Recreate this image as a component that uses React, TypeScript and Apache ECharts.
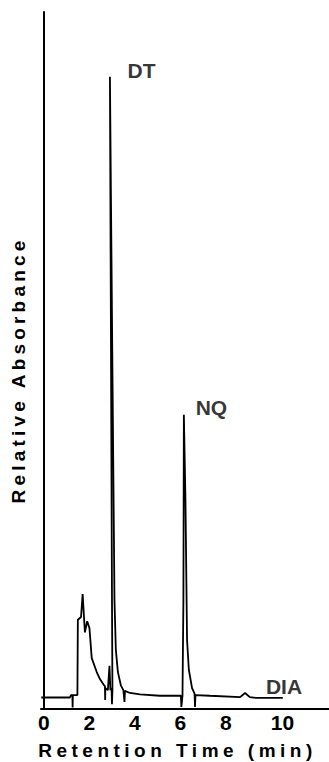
import React, { useEffect, useRef } from 'react';
import * as echarts from 'echarts';

// Retention time (min) and relative absorbance of the chromatogram trace
const retentionTime = [
  -0.12, 1.14, 1.19, 1.25, 1.26, 1.27, 1.41, 1.47, 1.49, 1.63,
  1.70, 1.80, 1.90, 2.00, 2.10, 2.32, 2.46, 2.64, 2.68, 2.69,
  2.70, 2.81, 2.88, 2.92, 2.97, 2.99, 3.01, 2.99, 2.90, 3.01,
  3.10, 3.16, 3.25, 3.38, 3.49, 3.54, 3.56, 3.78, 4.22, 5.10,
  6.02, 6.04, 6.09, 6.13, 6.15, 6.22, 6.29, 6.37, 6.51, 6.62,
  6.64, 6.66, 7.30, 8.62, 8.84, 9.05, 9.32, 10.50,
];
const absorbance = [
  1.65, 1.65, 2.0, 2.0, 0.2, 2.0, 2.0, 2.0, 12.8, 13.2,
  16.5, 11.0, 12.6, 11.6, 7.3, 5.3, 4.3, 3.4, 3.3, 1.3,
  3.0, 2.7, 6.2, 2.7, 3.0, 0.7, 2.7, 15.6, 90.7, 48.6,
  15.6, 8.5, 5.3, 3.4, 2.7, 1.0, 2.6, 2.3, 2.1, 1.9,
  1.9, 0.3, 1.9, 15.6, 42.2, 30.0, 9.9, 5.6, 3.0, 2.2,
  0.3, 2.0, 1.9, 1.7, 2.3, 1.7, 1.6, 1.6,
];

// Peak labels
const peakNames = ['DT', 'NQ', 'DIA'];
const peakLabelTime = [4.29, 7.36, 10.55];
const peakLabelAbs = [91.6, 43.3, 3.2];

// X tick labels
const xTickValues = [0, 2, 4, 6, 8, 10];

const xAxisTitle = 'Retention Time (min)';
const yAxisTitle = 'Relative Absorbance';

const FONT = '"Liberation Sans", Arial, Helvetica, sans-serif';

export default function App() {
  const ref = useRef<HTMLDivElement>(null);

  useEffect(() => {
    if (!ref.current) return;
    const chart = echarts.init(ref.current, null, { renderer: 'svg' });
    const trace = retentionTime.map((t, i) => [t, absorbance[i]]);
    const labels = peakNames.map((n, i) => ({ name: n, value: [peakLabelTime[i], peakLabelAbs[i]] }));
    const tickFont = { fontFamily: FONT, fontWeight: 'bold' as const, fontSize: 21, color: '#000' };

    chart.setOption({
      animation: false,
      backgroundColor: '#fff',
      grid: { left: 41, right: 0, top: 12, bottom: 53, containLabel: false, outerBoundsMode: 'none' },
      xAxis: {
        type: 'value',
        min: -0.13,
        max: 12.53,
        name: xAxisTitle,
        nameLocation: 'middle',
        nameGap: 32,
        nameTextStyle: {
          fontFamily: FONT,
          fontWeight: 'bold',
          fontSize: 19,
          color: '#000',
          padding: [0, 15, 0, 0],
        },
        axisLine: { show: true, onZero: false, lineStyle: { color: '#000', width: 2 } },
        axisTick: { show: false },
        splitLine: { show: false },
        axisLabel: {
          customValues: xTickValues,
          margin: 3,
          ...tickFont,
          formatter: (v: number) => (v === 10 ? `{s|${v}}` : `{n|${v}}`),
          rich: {
            n: { ...tickFont },
            s: { ...tickFont, padding: [0, 0, 0, 22] },
          },
        },
      },
      yAxis: {
        type: 'value',
        min: 0,
        max: 100,
        name: yAxisTitle,
        nameLocation: 'middle',
        nameRotate: 90,
        nameGap: 13,
        nameTextStyle: {
          fontFamily: FONT,
          fontWeight: 'bold',
          fontSize: 19,
          color: '#000',
          padding: [0, 19, 0, 0],
        },
        axisLine: { show: true, lineStyle: { color: '#000', width: 2 } },
        axisTick: { show: false },
        axisLabel: { show: false },
        splitLine: { show: false },
      },
      series: [
        {
          type: 'line',
          data: trace,
          showSymbol: false,
          symbol: 'none',
          smooth: false,
          lineStyle: { color: '#000', width: 1.8 },
          silent: true,
          z: 3,
        },
        {
          type: 'scatter',
          data: labels,
          symbolSize: 0,
          silent: true,
          label: {
            show: true,
            position: 'inside',
            formatter: '{b}',
            fontFamily: FONT,
            fontWeight: 'bold',
            fontSize: 21,
            color: '#000',
          },
          z: 4,
        },
      ],
    });

    const spacing: Record<string, string> = {
      [yAxisTitle]: '4.2px',
      [xAxisTitle]: '4.5px',
    };
    ref.current.querySelectorAll('text').forEach((t) => {
      const s = spacing[(t.textContent || '').trim()];
      if (s) t.setAttribute('letter-spacing', s);
    });

    return () => chart.dispose();
  }, []);

  return (
    <div
      ref={ref}
      style={{ position: 'absolute', left: 0, top: 0, width: 329, height: 762, background: '#fff' }}
    />
  );
}
